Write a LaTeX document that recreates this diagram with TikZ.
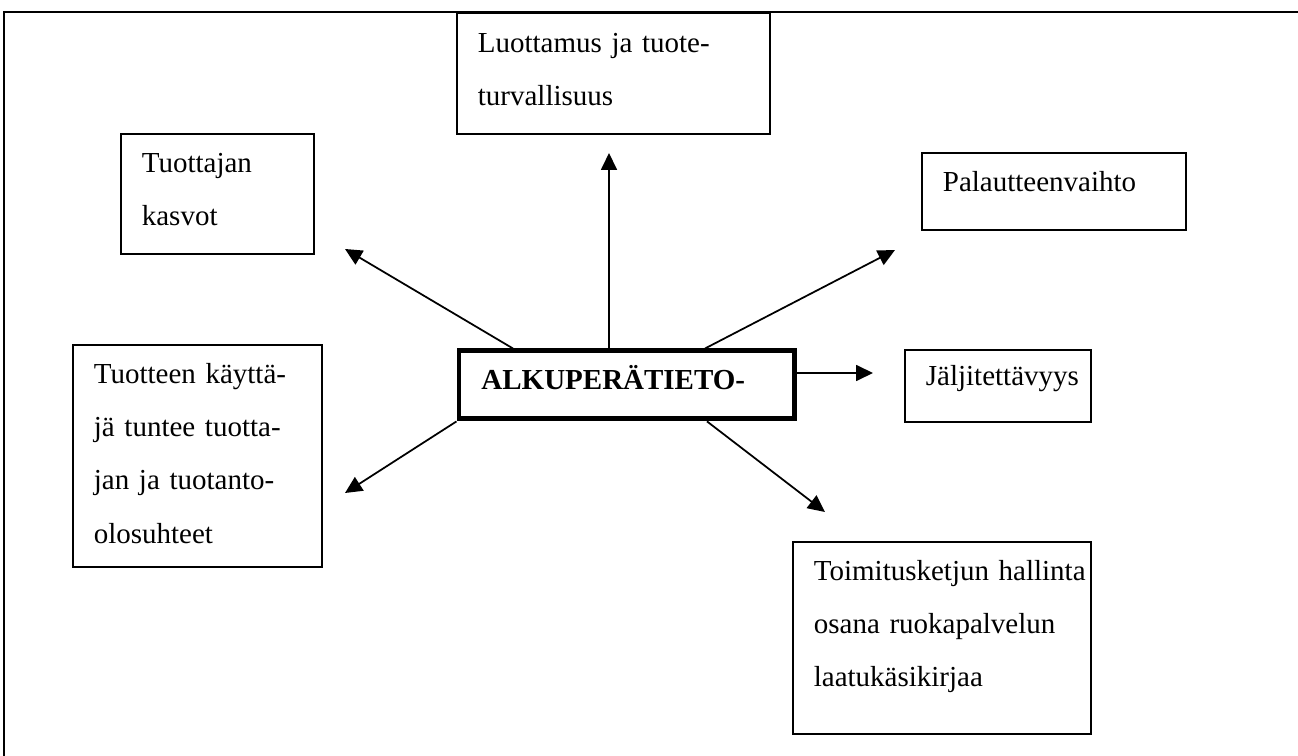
\documentclass[tikz,border=0pt]{standalone}
\usepackage{fontspec}
\setmainfont{Liberation Serif}
\usetikzlibrary{calc,arrows.meta}
\hyphenpenalty=10000
\tikzset{infobox/.style={draw, line width=1pt, anchor=north west, align=left,
            inner xsep=0.42cm, inner ysep=0pt, text height=0.78cm,
            font=\fontsize{16.5}{30.2}\selectfont},
         mainbox/.style={draw, line width=2.8pt, anchor=north west, align=left,
            inner xsep=0.45cm, inner ysep=0pt,
            font=\fontsize{16.5}{19}\selectfont\bfseries},
         link/.style={line width=1pt, -{Triangle[length=0.34cm,width=0.32cm]}}}

\begin{document}
\begin{tikzpicture}[x=0.02cm, y=-0.02cm]
        \useasboundingbox (0,0) rectangle (1298,756);
        % frame, cut off at the right and at the bottom
        \draw[line width=1.2pt] (4,756) -- (4,12) -- (1298,12);
        %
        \node[mainbox, text width=5.82cm, text height=0.77cm, text depth=0.59cm] (origin) at (456.5,348.5) {ALKUPERÄTIETO-};
        %
        \node[infobox, text width=5.42cm, text height=0.8cm, text depth=1.62cm] (luottamus) at (456,12) {Luottamus ja tuote-\\turvallisuus};
        \node[infobox, text width=3.02cm, text depth=1.62cm] (kasvot) at (120,133) {Tuottajan\\kasvot};
        \node[infobox, text width=4.44cm, text depth=0.76cm] (palaute) at (921,152) {Palautteenvaihto};
        \node[infobox, text width=2.88cm, text height=0.72cm, text depth=0.72cm] (jaljitys) at (904,349) {Jäljitettävyys};
        \node[infobox, text width=4.14cm, text depth=3.66cm] (kayttaja) at (72,344) {Tuotteen käyttä-\\jä tuntee tuotta-\\jan ja tuotanto-\\olosuhteet};
        \node[infobox, text width=5.12cm, text depth=3.06cm] (toimitus) at (792,541) {Toimitusketjun~hallinta\\osana ruokapalvelun\\laatukäsikirjaa};
        %
        \coordinate (tipKasvot) at (345,249);
        \coordinate (tipLuottamus) at (609,153);
        \coordinate (tipPalaute) at (895,250);
        \coordinate (tipJaljitys) at (873,373);
        \coordinate (tipKayttaja) at (345,493);
        \coordinate (tipToimitus) at (825,512);
        %
        \draw[link] ($(origin.north west)+(56.5,0)$) -- (tipKasvot);
        \draw[link] ($(origin.north west)+(152.5,0)$) -- (tipLuottamus);
        \draw[link] ($(origin.north west)+(248.5,0)$) -- (tipPalaute);
        \draw[link] (origin.east |- tipJaljitys) -- (tipJaljitys);
        \draw[link] (origin.south west) -- (tipKayttaja);
        \draw[link] ($(origin.south west)+(250.5,0)$) -- (tipToimitus);
    \end{tikzpicture}
\end{document}
